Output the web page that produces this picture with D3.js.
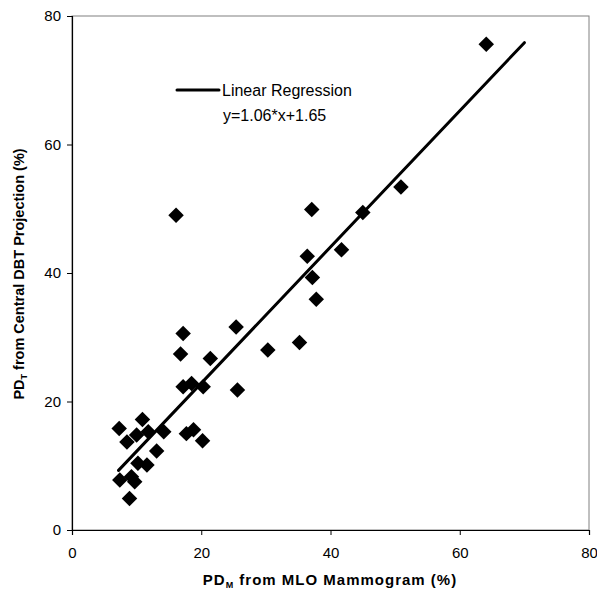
<!DOCTYPE html>
<html><head><meta charset="utf-8">
<script src="https://cdn.jsdelivr.net/npm/d3@7"></script>
<style>body{margin:0;background:#fff}svg{display:block}</style>
</head><body>
<script>
const xValues = [64.1, 50.9, 37.1, 45.0, 36.4, 41.7, 37.2, 37.8, 16.1, 25.4, 17.2, 16.8, 21.4, 30.3, 35.2, 17.2, 18.5, 20.3, 25.6, 14.2, 17.7, 18.8, 20.2, 13.1, 7.3, 10.9, 8.5, 10.0, 11.8, 10.2, 11.6, 9.2, 7.4, 9.7, 8.9];
const yValues = [75.6, 53.4, 49.9, 49.4, 42.6, 43.6, 39.3, 35.9, 49.0, 31.6, 30.6, 27.4, 26.7, 28.0, 29.2, 22.3, 22.8, 22.3, 21.8, 15.3, 15.0, 15.6, 13.9, 12.3, 15.8, 17.2, 13.7, 14.8, 15.3, 10.4, 10.1, 8.3, 7.8, 7.5, 4.9];
const tickValues = [0, 20, 40, 60, 80];
const slope = 1.06, intercept = 1.65;
const fitRange = [7.2, 70];
const legendLabels = ["Linear Regression", "y=1.06*x+1.65"];

const W = 597, H = 599;
const svg = d3.select("body").append("svg").attr("width", W).attr("height", H);
const x = d3.scaleLinear().domain([0, 80]).range([72, 589]);
const y = d3.scaleLinear().domain([0, 80]).range([530, 16]);

// plot border
svg.append("rect").attr("x", x(0)).attr("y", y(80)).attr("width", x(80) - x(0)).attr("height", y(0) - y(80))
  .attr("fill", "none").attr("stroke", "#808080").attr("stroke-width", 1);

const font = "Liberation Sans, Arial, sans-serif";
const xAxis = svg.append("g").attr("transform", `translate(0,${y(0)})`)
  .call(d3.axisBottom(x).tickValues(tickValues).tickSize(5).tickPadding(12));
const yAxis = svg.append("g").attr("transform", `translate(${x(0)},0)`)
  .call(d3.axisLeft(y).tickValues(tickValues).tickSize(5).tickPadding(6));
[xAxis, yAxis].forEach(g => {
  g.select(".domain").attr("stroke", "#000").attr("stroke-width", 1.2);
  g.selectAll(".tick line").attr("stroke", "#000");
  g.selectAll(".tick text").attr("font-family", font).attr("font-size", 15).attr("fill", "#000");
});

// regression line
svg.append("line")
  .attr("x1", x(fitRange[0])).attr("y1", y(slope * fitRange[0] + intercept))
  .attr("x2", x(fitRange[1])).attr("y2", y(slope * fitRange[1] + intercept))
  .attr("stroke", "#000").attr("stroke-width", 3).attr("stroke-linecap", "round");

// points
const sym = d3.symbol().type(d3.symbolSquare).size(120);
svg.append("g").selectAll("path").data(xValues.map((v, i) => [v, yValues[i]])).join("path")
  .attr("d", sym)
  .attr("transform", d => `translate(${x(d[0])},${y(d[1])}) rotate(45)`)
  .attr("fill", "#000");

// legend
svg.append("line").attr("x1", 177).attr("x2", 219).attr("y1", 90).attr("y2", 90)
  .attr("stroke", "#000").attr("stroke-width", 3).attr("stroke-linecap", "round");
svg.append("text").attr("x", 222).attr("y", 96).attr("font-family", font).attr("font-size", 16).text(legendLabels[0]);
svg.append("text").attr("x", 223).attr("y", 121).attr("font-family", font).attr("font-size", 16).text(legendLabels[1]);

// axis titles
const xt = svg.append("text").attr("x", 330).attr("y", 585).attr("text-anchor", "middle")
  .attr("font-family", font).attr("font-size", 15).attr("font-weight", "bold").attr("letter-spacing", 1);
xt.append("tspan").text("PD");
xt.append("tspan").attr("font-size", 9).attr("dy", 3).text("M");
xt.append("tspan").attr("dy", -3).text(" from MLO Mammogram (%)");

const yt = svg.append("text").attr("transform", `translate(24,274) rotate(-90)`).attr("text-anchor", "middle")
  .attr("font-family", font).attr("font-size", 14.5).attr("font-weight", "bold");
yt.append("tspan").text("PD");
yt.append("tspan").attr("font-size", 9).attr("dy", 3).text("T");
yt.append("tspan").attr("dy", -3).text(" from Central DBT Projection (%)");
</script>
</body></html>
